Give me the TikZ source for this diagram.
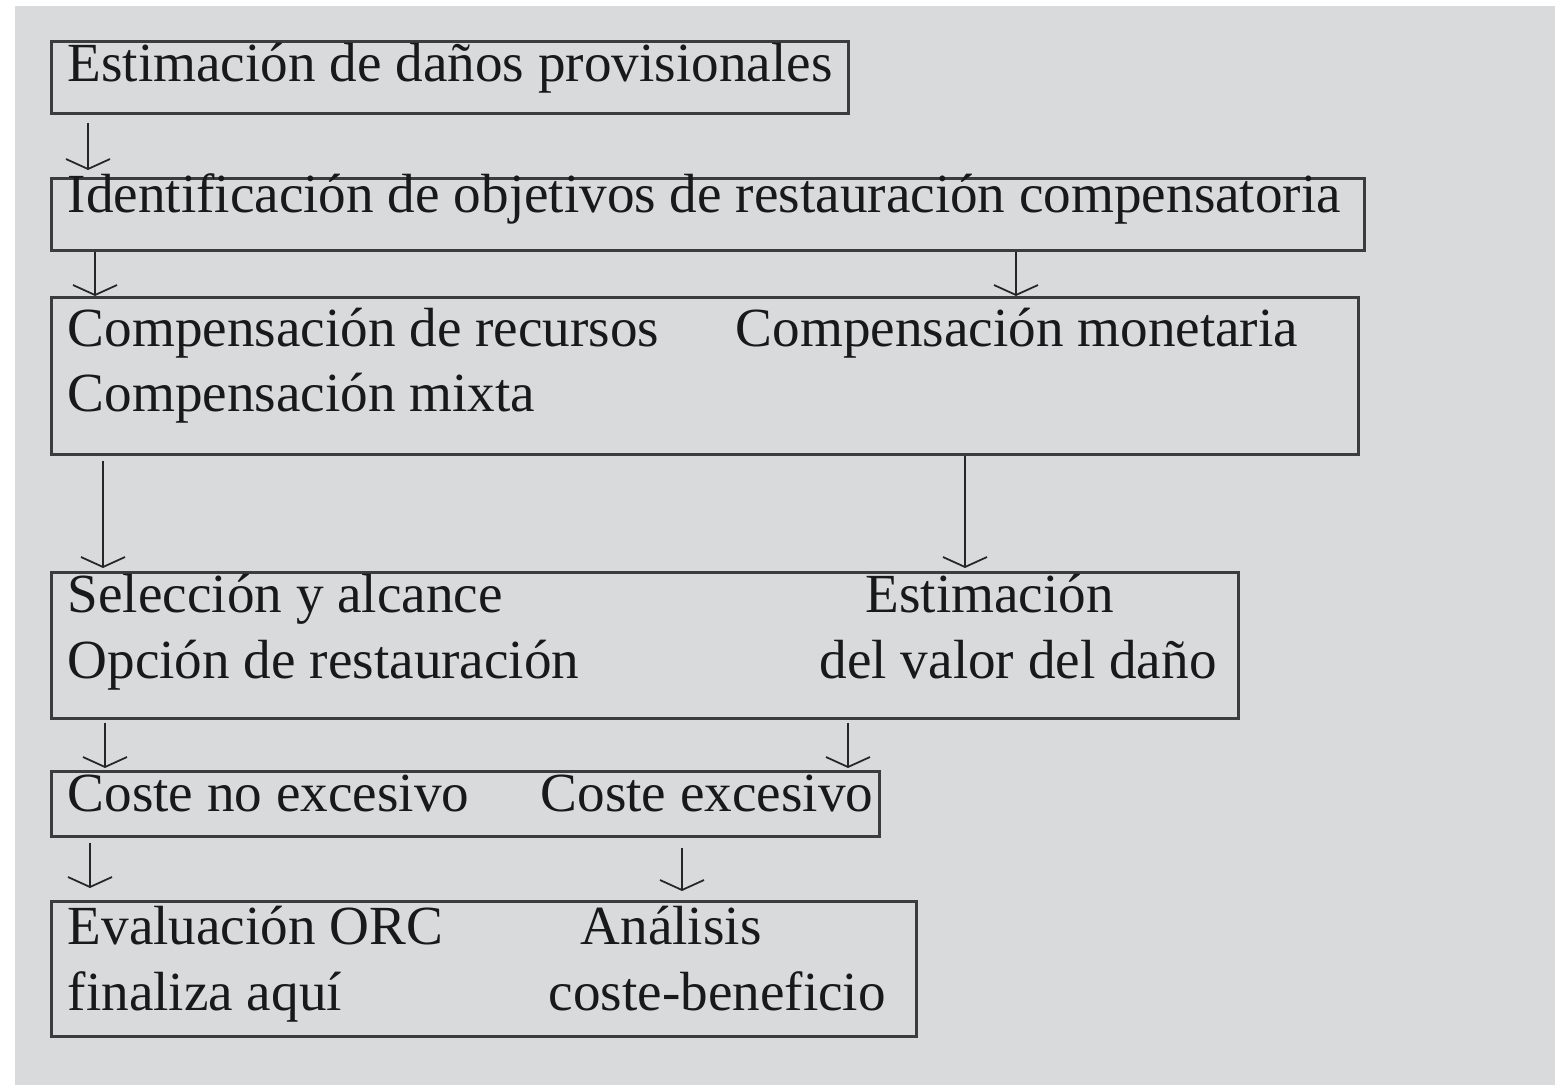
\documentclass[tikz,border=0pt]{standalone}
\usepackage{fontspec}
\setmainfont{Liberation Serif}
\usepackage{xcolor}
\usetikzlibrary{arrows.meta,positioning}
\definecolor{bggray}{RGB}{217,218,220}
\definecolor{inkgray}{RGB}{60,60,62}

\begin{document}
\begin{tikzpicture}[
  stage/.style={rectangle, draw=inkgray, line width=0.75pt, anchor=north west,
    inner sep=0pt},
  label/.style={anchor=base west, inner sep=0pt, text=black!90,
    font=\fontsize{15.7pt}{19pt}\selectfont},
  arrow/.style={-{Straight Barb[length=1mm,width=4.4mm]}, line width=0.5pt, draw=black!85},
]
  \useasboundingbox (0,0) rectangle (15.55,10.88);
  \fill[bggray] (0.15,0.03) rectangle (15.55,10.82);

  \node[stage, minimum width=7.97cm, minimum height=0.72cm] (b1) at (0.50,10.48) {};
  \node[stage, minimum width=13.13cm, minimum height=0.72cm] (b2) at (0.50,9.11) {};
  \node[stage, minimum width=13.07cm, minimum height=1.57cm] (b3) at (0.50,7.92) {};
  \node[stage, minimum width=11.87cm, minimum height=1.46cm] (b4) at (0.50,5.17) {};
  \node[stage, minimum width=8.28cm, minimum height=0.65cm] (b5) at (0.50,3.18) {};
  \node[stage, minimum width=8.65cm, minimum height=1.35cm] (b6) at (0.50,1.88) {};

  \node[label] (t1) at ([shift={(0.17,-0.42)}]b1.north west) {Estimación de daños provisionales};
  \node[label] (t2) at ([shift={(0.17,-0.36)}]b2.north west) {Identificación de objetivos de restauración compensatoria};

  \node[label] (t3a) at ([shift={(0.17,-0.51)}]b3.north west) {Compensación de recursos};
  \node[label] (t3b) at ([shift={(6.85,-0.51)}]b3.north west) {Compensación monetaria};
  \node[label] (t3c) at ([shift={(0.17,-1.16)}]b3.north west) {Compensación mixta};

  \node[label] (t4a) at ([shift={(0.17,-0.42)}]b4.north west) {Selección y alcance};
  \node[label] (t4b) at ([shift={(0.17,-1.08)}]b4.north west) {Opción de restauración};
  \node[label] (t4c) at ([shift={(8.15,-0.42)}]b4.north west) {Estimación};
  \node[label] (t4d) at ([shift={(7.69,-1.08)}]b4.north west) {del valor del daño};

  \node[label] (t5a) at ([shift={(0.17,-0.42)}]b5.north west) {Coste no excesivo};
  \node[label] (t5b) at ([shift={(4.90,-0.42)}]b5.north west) {Coste excesivo};

  \node[label] (t6a) at ([shift={(0.17,-0.45)}]b6.north west) {Evaluación ORC};
  \node[label] (t6b) at ([shift={(0.17,-1.11)}]b6.north west) {finaliza aquí};
  \node[label] (t6c) at ([shift={(5.30,-0.45)}]b6.north west) {Análisis};
  \node[label] (t6d) at ([shift={(4.98,-1.11)}]b6.north west) {coste-beneficio};

  \draw[arrow] ([xshift=0.38cm,yshift=-0.08cm]b1.south west) -- ([xshift=0.38cm,yshift=0.07cm]b2.north west);
  \draw[arrow] ([xshift=0.45cm]b2.south west) -- ([xshift=0.45cm]b3.north west);
  \draw[arrow] ([xshift=9.66cm]b2.south west) -- ([xshift=9.66cm]b3.north west);
  \draw[arrow] ([xshift=0.53cm,yshift=-0.05cm]b3.south west) -- ([xshift=0.53cm,yshift=0.03cm]b4.north west);
  \draw[arrow] ([xshift=9.15cm]b3.south west) -- ([xshift=9.15cm,yshift=0.03cm]b4.north west);
  \draw[arrow] ([xshift=0.55cm,yshift=-0.03cm]b4.south west) -- ([xshift=0.55cm,yshift=0.02cm]b5.north west);
  \draw[arrow] ([xshift=7.98cm,yshift=-0.03cm]b4.south west) -- ([xshift=7.98cm,yshift=0.02cm]b5.north west);
  \draw[arrow] ([xshift=0.40cm,yshift=-0.05cm]b5.south west) -- ([xshift=0.40cm,yshift=0.12cm]b6.north west);
  \draw[arrow] ([xshift=6.32cm,yshift=-0.10cm]b5.south west) -- ([xshift=6.32cm,yshift=0.09cm]b6.north west);
\end{tikzpicture}
\end{document}
